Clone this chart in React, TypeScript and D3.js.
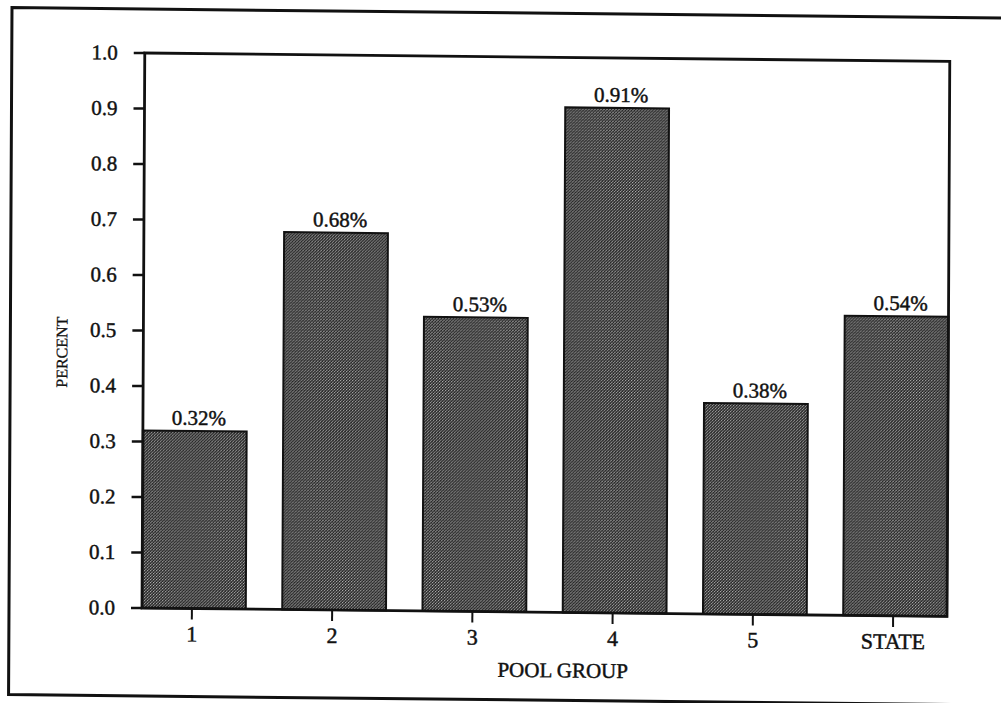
import React from "react";
import * as d3 from "d3";

const categories = ["1", "2", "3", "4", "5", "STATE"];
const values = [0.32, 0.68, 0.53, 0.91, 0.38, 0.54];
const valueLabels = ["0.32%", "0.68%", "0.53%", "0.91%", "0.38%", "0.54%"];
const yTickValues = [0, 0.1, 0.2, 0.3, 0.4, 0.5, 0.6, 0.7, 0.8, 0.9, 1.0];
const xTitle = "POOL GROUP";
const yTitle = "PERCENT";

const W = 1001;
const H = 703;
const plot = { left: 142, right: 947, top: 53, bottom: 608 };
const font = "'Liberation Serif', 'Times New Roman', serif";
const ink = "#111";
const textStroke = { stroke: ink, strokeWidth: 0.45 };

export default function App() {
  const x = d3
    .scaleBand<string>()
    .domain(categories)
    .range([plot.left, plot.right])
    .paddingInner(0.26)
    .paddingOuter(0);
  const y = d3.scaleLinear().domain([0, 1]).range([plot.bottom, plot.top]);
  const fmt = d3.format(".1f");
  const skew = `translate(${plot.left},${plot.bottom}) matrix(1,0.0105,-0.005,1,0,0) translate(${-plot.left},${-plot.bottom})`;

  return (
    <svg
      width={W}
      height={H}
      viewBox={`0 0 ${W} ${H}`}
      style={{ position: "absolute", left: 0, top: 0, background: "#fff" }}
    >
      <defs>
        <pattern id="halftone" width="3" height="3" patternUnits="userSpaceOnUse">
          <rect width="3" height="3" fill="#262626" />
          <rect x="0" y="0" width="1" height="1" fill="#b0b0b0" />
          <rect x="2" y="1" width="1" height="1" fill="#8a8a8a" />
          <rect x="1" y="2" width="1" height="1" fill="#bcbcbc" />
        </pattern>
      </defs>
      <g transform={skew}>
        {/* outer frame */}
        <path
          d={`M${W + 20},9 H9 V696 H${W + 20}`}
          fill="none"
          stroke={ink}
          strokeWidth={3}
        />
        {/* bars */}
        {categories.map((c, i) => (
          <rect
            key={c}
            x={x(c)!}
            y={y(values[i])}
            width={x.bandwidth()}
            height={y(0) - y(values[i])}
            fill="url(#halftone)"
            stroke={ink}
            strokeWidth={2}
          />
        ))}
        {/* value labels */}
        {categories.map((c, i) => (
          <text
            key={"l" + c}
            x={x(c)! + x.bandwidth() / 2 + 4}
            y={y(values[i]) - 6}
            textAnchor="middle"
            fontFamily={font}
            fontSize={21}
            fill={ink}
            {...textStroke}
          >
            {valueLabels[i]}
          </text>
        ))}
        {/* plot frame */}
        <rect
          x={plot.left}
          y={plot.top}
          width={plot.right - plot.left}
          height={plot.bottom - plot.top}
          fill="none"
          stroke={ink}
          strokeWidth={2.8}
        />
        {/* y ticks */}
        {yTickValues.map((t) => (
          <g key={"y" + t}>
            <line
              x1={plot.left - 11}
              x2={plot.left}
              y1={y(t)}
              y2={y(t)}
              stroke={ink}
              strokeWidth={2.5}
            />
            <text
              x={115}
              y={y(t)}
              dy="0.33em"
              textAnchor="end"
              fontFamily={font}
              fontSize={21}
              fill={ink}
              {...textStroke}
            >
              {fmt(t)}
            </text>
          </g>
        ))}
        {/* x ticks */}
        {categories.map((c) => (
          <g key={"x" + c}>
            <line
              x1={x(c)! + x.bandwidth() / 2 - 2}
              x2={x(c)! + x.bandwidth() / 2 - 2}
              y1={plot.bottom}
              y2={plot.bottom + 11}
              stroke={ink}
              strokeWidth={2}
            />
            <text
              x={x(c)! + x.bandwidth() / 2 - 2}
              y={641}
              textAnchor="middle"
              fontFamily={font}
              fontSize={22}
              fill={ink}
              {...textStroke}
            >
              {c}
            </text>
          </g>
        ))}
        {/* axis titles */}
        <text
          x={563}
          y={673}
          textAnchor="middle"
          fontFamily={font}
          fontSize={21}
          fill={ink}
          {...textStroke}
        >
          {xTitle}
        </text>
        <text
          transform={`translate(66,353) rotate(-90)`}
          textAnchor="middle"
          fontFamily={font}
          fontSize={16}
          fill={ink}
          stroke={ink}
          strokeWidth={0.3}
        >
          {yTitle}
        </text>
      </g>
    </svg>
  );
}
